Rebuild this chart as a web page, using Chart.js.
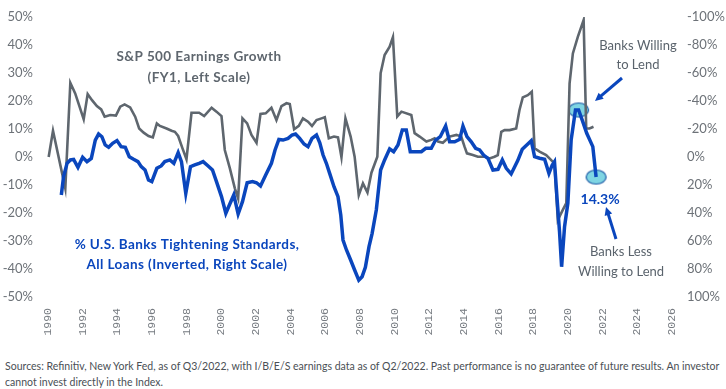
<!DOCTYPE html>
<html>
<head>
<meta charset="utf-8">
<script src="https://cdn.jsdelivr.net/npm/chart.js@4/dist/chart.umd.min.js"></script>
<style>
  html, body { margin: 0; padding: 0; background: #fff; }
  #wrap { position: relative; width: 726px; height: 389px; overflow: hidden; }
  #chart { position: absolute; left: 0; top: 0; }
  .note { position: absolute; left: 5px; white-space: nowrap; font: 12px Lato, sans-serif;
          color: #4a4f55; transform-origin: 0 0; }
</style>
</head>
<body>
<div id="wrap">
  <canvas id="chart" width="726" height="345"></canvas>
  <div class="note" id="n1" style="top:358px">Sources: Refinitiv, New York Fed, as of Q3/2022, with I/B/E/S earnings data as of Q2/2022. Past performance is no guarantee of future results. An investor</div>
  <div class="note" id="n2" style="top:374px">cannot invest directly in the Index.</div>
</div>
<script>
// S&P 500 FY1 earnings growth, % (left scale)
const earningsYears = [
  1990.04, 1990.29, 1991.0, 1991.29, 1991.57, 1992.06, 1992.29, 1992.54, 1992.82, 1993.07,
  1993.27, 1993.59, 1993.92, 1994.17, 1994.42, 1994.74, 1995.03, 1995.26, 1995.52, 1995.8,
  1996.05, 1996.28, 1996.46, 1996.84, 1997.13, 1997.32, 1997.51, 1997.76, 1997.99, 1998.28,
  1998.72, 1999.01, 1999.44, 1999.72, 2000.01, 2000.2, 2000.49, 2000.78, 2000.97, 2001.22,
  2001.49, 2001.74, 2002.03, 2002.26, 2002.56, 2002.89, 2003.18, 2003.47, 2003.76, 2003.95,
  2004.2, 2004.47, 2004.71, 2005.0, 2005.23, 2005.49, 2005.78, 2005.97, 2006.2, 2006.5,
  2006.73, 2006.93, 2007.16, 2007.46, 2007.69, 2007.93, 2008.17, 2008.43, 2008.66, 2009.0,
  2009.19, 2009.42, 2009.71, 2009.9, 2010.15, 2010.39, 2010.96, 2011.15, 2011.44, 2011.83,
  2012.11, 2012.31, 2012.5, 2012.78, 2013.17, 2013.56, 2013.84, 2014.03, 2014.17, 2014.51,
  2014.8, 2015.19, 2015.48, 2015.76, 2015.95, 2016.15, 2016.34, 2016.63, 2017.01, 2017.2,
  2017.39, 2017.68, 2017.91, 2018.07, 2018.36, 2018.74, 2019.03, 2019.22, 2019.41, 2019.7,
  2019.9, 2020.09, 2020.28, 2020.57, 2020.9, 2021.05, 2021.24, 2021.47
];
const earningsGrowth = [
  0, 9.4, -11.2, 26.5, 22.7, 13.5, 22.5, 20.3, 18.2, 17,
  14.4, 15, 14.8, 18, 18.8, 17.7, 14.4, 10.2, 8.7, 7.5,
  7, 12, 11.1, 10.2, 9.4, 9.0, 7.5, 3.1, -0.8, 15.8,
  15.8, 14.6, 17.6, 16.2, 14.6, 2.5, -4.0, -11.2, -14.8, 13.8,
  12.0, 7.9, 5.1, 15.4, 15.6, 17.6, 13.2, 18.2, 19.2, 18.9,
  9.9, 11.1, 13.8, 12.6, 11.1, 13.2, 13.8, 14.2, 6.7, 7.3,
  7.0, -0.1, 13.8, 7.3, 0.1, -13.6, -9.4, -12.7, -5.6, 0.1,
  29.9, 36.4, 39.4, 42.8, 14.5, 16.2, 15, 8.5, 7.3, 5.5,
  6.1, 6.7, 5.5, 5.1, 7.3, 7.9, 7.3, 3.7, 1.3, 0.7,
  0.1, 0.1, -0.5, 0.1, 0.7, 9.0, 9.6, 9.6, 10.2, 16.8,
  21.3, 22.1, 23.3, 3.1, 1.9, 0.7, -1.1, -2.3, -22.5, -18.9,
  -16.5, 26.3, 37, 43, 48.9, 10.2, 10.2, 10.8
];

// % of U.S. banks tightening standards, all loans (right scale, inverted)
const tighteningYears = [
  1990.77, 1990.9, 1991.1, 1991.29, 1991.48, 1991.73, 1992.0, 1992.25, 1992.5, 1992.73,
  1992.92, 1993.11, 1993.3, 1993.5, 1993.73, 1993.98, 1994.22, 1994.46, 1994.69, 1994.94,
  1995.19, 1995.38, 1995.6, 1995.8, 1995.99, 1996.28, 1996.53, 1996.74, 1997.03, 1997.26,
  1997.51, 1997.7, 1997.95, 1998.22, 1998.47, 1998.72, 1998.95, 1999.24, 1999.49, 1999.72,
  2000.01, 2000.26, 2000.49, 2000.72, 2000.97, 2001.22, 2001.49, 2001.8, 2002.03, 2002.26,
  2002.56, 2002.89, 2003.1, 2003.32, 2003.56, 2003.85, 2004.08, 2004.28, 2004.52, 2004.77,
  2005.0, 2005.23, 2005.49, 2005.68, 2005.87, 2006.06, 2006.25, 2006.5, 2006.73, 2006.89,
  2007.02, 2007.22, 2007.46, 2007.69, 2007.93, 2008.12, 2008.31, 2008.52, 2008.7, 2008.94,
  2009.19, 2009.42, 2009.71, 2009.94, 2010.19, 2010.44, 2010.67, 2010.9, 2011.25, 2011.54,
  2011.79, 2012.11, 2012.36, 2012.63, 2012.94, 2013.17, 2013.46, 2013.75, 2013.94, 2014.17,
  2014.42, 2014.67, 2014.9, 2015.13, 2015.38, 2015.67, 2015.96, 2016.21, 2016.44, 2016.72,
  2017.1, 2017.36, 2017.62, 2017.88, 2018.07, 2018.36, 2018.65, 2018.9, 2019.09, 2019.22,
  2019.36, 2019.51, 2019.63, 2019.8, 2019.99, 2020.18, 2020.43, 2020.61, 2020.82, 2021.08,
  2021.43, 2021.62
];
const tighteningPct = [
  27.1, 14.0, 4.5, 2.1, 1.7, 7.4, 0.2, 3.3, 1.0, -12.1,
  -16.4, -14.5, -8.6, -6.9, -9.8, -11.7, -7.4, -6.9, -0.2, 1.6,
  3.3, 6.9, 9.3, 16.4, 17.6, 8.1, 6.4, 3.3, 2.1, 4.5,
  -3.1, 3.3, 26, 6.9, 5.7, 4.5, 3.3, 6.4, 9.3, 17.6,
  28.3, 40.2, 33.6, 27.1, 40.7, 31.9, 18.4, 17.6, 18.4, 20.7,
  12.9, 4.5, -5, -12.5, -12.1, -13.3, -15.7, -16.4, -13.3, -9.3,
  -7.4, -13.3, -15.7, -10.2, -1.4, 4.5, 11.7, 21.2, 28.3, 41.4,
  59.3, 66.4, 73.6, 80.7, 87.9, 85.5, 78.8, 64, 54.5, 37.9,
  9.3, 2.1, -5.8, -3.8, -8.6, -19.3, -19.3, -3.8, -3.8, -3.8,
  -6.2, -6.2, -12.1, -14.5, -22.1, -10.9, -10.9, -12.6, -22.1, -14.5,
  -10.9, -6.2, -5, -1.4, 0.9, 9.3, 8.8, 2.1, 8.1, 12.1,
  2.6, -5.5, -8.6, -11.6, -0.2, 0.9, 1.6, 11.7, 5.7, 3.3,
  28.3, 53.3, 78.4, 49.8, 33.1, -12.1, -33.6, -33.6, -26.4, -16.9,
  -7.4, 14.3
];

// points circled on the chart: loosest recent reading and the latest reading
const highlightIdx = [127, tighteningYears.length - 1];

const xTicks = { min: 1989.54, max: 2026.46, step: 2 };

const GRAY = '#5e666e';
const BLUE = '#0a46bd';
const TICK = '#6d7278';

function ellipseImage() {
  const c = document.createElement('canvas');
  c.width = 23; c.height = 17;
  const g = c.getContext('2d');
  g.beginPath();
  g.ellipse(11.5, 8.5, 10, 7, 0, 0, Math.PI * 2);
  g.fillStyle = '#7fd5e3';
  g.fill();
  g.lineWidth = 1.2;
  g.strokeStyle = '#1d5aa6';
  g.stroke();
  return c;
}

function arrow(ctx, x1, y1, x2, y2) {
  const a = Math.atan2(y2 - y1, x2 - x1);
  const head = 9;
  ctx.save();
  ctx.strokeStyle = BLUE;
  ctx.fillStyle = BLUE;
  ctx.lineWidth = 3;
  ctx.beginPath();
  ctx.moveTo(x1, y1);
  ctx.lineTo(x2 - Math.cos(a) * head * 0.8, y2 - Math.sin(a) * head * 0.8);
  ctx.stroke();
  ctx.beginPath();
  ctx.moveTo(x2, y2);
  ctx.lineTo(x2 - head * Math.cos(a - 0.45), y2 - head * Math.sin(a - 0.45));
  ctx.lineTo(x2 - head * Math.cos(a + 0.45), y2 - head * Math.sin(a + 0.45));
  ctx.closePath();
  ctx.fill();
  ctx.restore();
}

const labelsPlugin = {
  id: 'labels',
  afterDraw(chart) {
    const ctx = chart.ctx;
    ctx.save();
    ctx.textAlign = 'center';
    ctx.textBaseline = 'middle';

    ctx.fillStyle = GRAY;
    ctx.font = 'bold 13.5px Lato, sans-serif';
    ctx.letterSpacing = '0.4px';
    ctx.fillText('S&P 500 Earnings Growth', 199, 57);
    ctx.fillText('(FY1, Left Scale)', 199, 78);

    ctx.fillStyle = BLUE;
    ctx.fillText('% U.S. Banks Tightening Standards,', 187, 245);
    ctx.fillText('All Loans (Inverted, Right Scale)', 187, 265);

    ctx.letterSpacing = '0px';
    ctx.font = 'bold 14px Lato, sans-serif';
    const last = highlightIdx[1];
    const px = chart.scales.x.getPixelForValue(tighteningYears[last]);
    const py = chart.scales.y2.getPixelForValue(tighteningPct[last]);
    ctx.fillText(tighteningPct[last].toFixed(1) + '%', px + 4, py + 22);

    ctx.fillStyle = '#5a636c';
    ctx.font = '13px Lato, sans-serif';
    ctx.fillText('Banks Willing', 638, 46);
    ctx.fillText('to Lend', 638, 65);
    ctx.fillText('Banks Less', 621, 252);
    ctx.fillText('Willing to Lend', 621, 272);
    ctx.restore();

    arrow(ctx, 622, 78, 595, 101);
    arrow(ctx, 616, 239, 606, 207);
  }
};

const ctx = document.getElementById('chart');

new Chart(ctx, {
  type: 'line',
  data: {
    datasets: [
      {
        label: 'Tightening',
        data: tighteningYears.map((x, i) => ({ x, y: tighteningPct[i] })),
        yAxisID: 'y2',
        borderColor: BLUE,
        borderWidth: 3.5,
        pointRadius: 0,
        tension: 0,
      },
      {
        label: 'Earnings',
        data: earningsYears.map((x, i) => ({ x, y: earningsGrowth[i] })),
        yAxisID: 'y',
        borderColor: GRAY,
        borderWidth: 2.6,
        pointRadius: 0,
        tension: 0,
      },
      {
        label: 'Highlight',
        data: highlightIdx.map(i => ({ x: tighteningYears[i], y: tighteningPct[i] })),
        yAxisID: 'y2',
        showLine: false,
        pointStyle: ellipseImage(),
        pointRadius: 8,
      },
    ],
  },
  options: {
    responsive: false,
    animation: false,
    layout: { padding: { top: 17, left: 0, right: 0, bottom: 0 } },
    plugins: { legend: { display: false }, tooltip: { enabled: false } },
    scales: {
      x: {
        type: 'linear',
        min: xTicks.min,
        max: xTicks.max,
        grid: { display: false, drawTicks: false },
        border: { display: false },
        afterFit: (s) => { s.height = 48; },
        ticks: {
          stepSize: xTicks.step,
          includeBounds: false,
          minRotation: 90,
          maxRotation: 90,
          padding: 11,
          color: '#767b81',
          font: { family: 'Liberation Mono', size: 11.5 },
          callback: (v) => String(v),
        },
      },
      y: {
        position: 'left',
        min: -50,
        max: 50,
        grid: { display: false, drawTicks: false },
        border: { display: false },
        afterFit: (s) => { s.width = 40; },
        ticks: {
          stepSize: 10,
          padding: 7,
          color: TICK,
          font: { family: 'Lato', size: 13 },
          callback: (v) => v + '%',
        },
      },
      y2: {
        position: 'right',
        min: -100,
        max: 100,
        reverse: true,
        grid: { display: false, drawTicks: false },
        border: { display: false },
        afterFit: (s) => { s.width = 46; },
        ticks: {
          stepSize: 20,
          padding: 7,
          color: TICK,
          font: { family: 'Lato', size: 13 },
          callback: (v) => v + '%',
        },
      },
    },
  },
  plugins: [labelsPlugin],
});

// squeeze the source note into the page width like the original
const n1 = document.getElementById('n1');
const n2 = document.getElementById('n2');
const k = 714 / n1.scrollWidth;
n1.style.transform = 'scaleX(' + k + ')';
n2.style.transform = 'scaleX(' + k + ')';
</script>
</body>
</html>
